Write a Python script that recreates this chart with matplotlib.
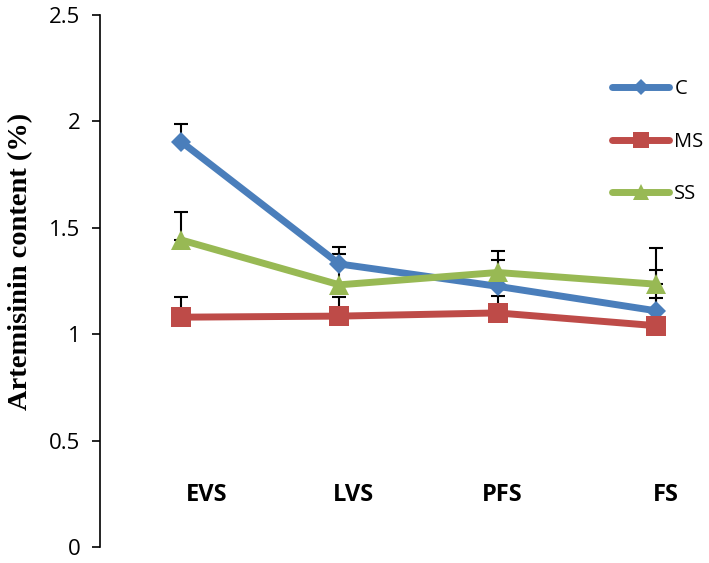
import matplotlib
matplotlib.use("Agg")
import matplotlib.pyplot as plt

categories = ["EVS", "LVS", "PFS", "FS"]
c_vals = [1.905, 1.33, 1.225, 1.11]
ms_vals = [1.08, 1.085, 1.10, 1.04]
ss_vals = [1.443, 1.232, 1.29, 1.235]
c_err = [0.085, 0.08, 0.125, 0.19]
ms_err = [0.093, 0.09, 0.08, 0.13]
ss_err = [0.13, 0.145, 0.10, 0.17]
yticks = [0, 0.5, 1, 1.5, 2, 2.5]
ytick_labels = ["0", "0.5", "1", "1.5", "2", "2.5"]

# layout: label x offsets relative to category position (manually placed labels)
label_shift = [0.16, 0.09, 0.03, 0.06]

W, H = 709, 563
fig = plt.figure(figsize=(W / 100, H / 100), dpi=100)
ax = fig.add_axes([100 / W, 1 - 547 / H, 609 / W, (547 - 15) / H])

x = list(range(len(categories)))
colors = {"C": "#4A7EBB", "MS": "#BE4B48", "SS": "#98B954"}
series = [("C", c_vals, c_err, "D", 10.5), ("MS", ms_vals, ms_err, "s", 15), ("SS", ss_vals, ss_err, "^", 15)]

for name, vals, err, mk, msz in series:
    ax.errorbar(x, vals, yerr=[[0] * len(err), err], fmt="none", ecolor="black",
                elinewidth=1.5, capsize=5, capthick=1.5, zorder=1)

for name, vals, err, mk, msz in series:
    ax.plot(x, vals, color=colors[name], lw=5, marker=mk, markersize=msz,
            markeredgewidth=0, solid_capstyle="round", label=name, zorder=3)

ax.set_xlim(-0.512, 3.335)
ax.set_ylim(0, 2.5)
ax.set_yticks(yticks)
ax.set_yticklabels(ytick_labels, fontfamily="Open Sans", fontsize=16)
ax.tick_params(axis="y", direction="out", length=6, width=1.2, pad=8)
ax.set_xticks([])
for s in ["top", "right", "bottom"]:
    ax.spines[s].set_visible(False)
ax.spines["left"].set_linewidth(1.2)

for xi, lab, sh in zip(x, categories, label_shift):
    ax.text(xi + sh, 0.245, lab, ha="center", va="center", fontfamily="Open Sans",
            fontweight="bold", fontsize=17)

fig.text(21 / W, 1 - 261 / H, "Artemisinin content (%)", rotation=90,
         ha="center", va="center", fontfamily="Liberation Serif",
         fontweight="bold", fontsize=20.5)

leg = ax.legend(loc="upper left", bbox_to_anchor=(612 / W, 1 - 79 / H),
                bbox_transform=fig.transFigure, frameon=False,
                prop={"family": "Open Sans", "size": 14.5},
                handlelength=2.85, handletextpad=0.25, labelspacing=1.62,
                borderpad=0, borderaxespad=0, markerscale=0.8, numpoints=1)

fig.savefig("out.png", dpi=100)
